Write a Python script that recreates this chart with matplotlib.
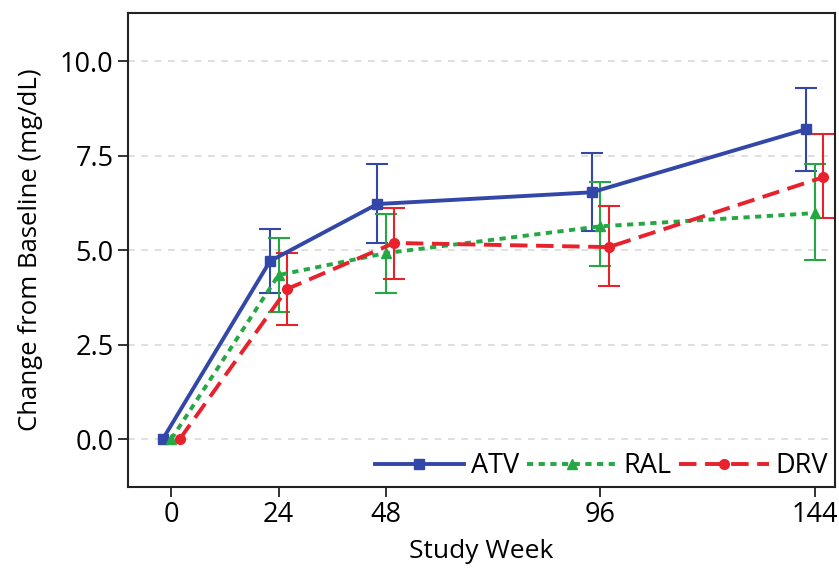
import matplotlib.pyplot as plt
from matplotlib.ticker import FormatStrFormatter

plt.rcParams['font.family'] = ['Open Sans', 'DejaVu Sans']

weeks = [0, 24, 48, 96, 144]

atv_mean = [0.0, 4.71, 6.22, 6.53, 8.20]
atv_low = [0.0, 3.86, 5.19, 5.50, 7.09]
atv_high = [0.0, 5.56, 7.28, 7.57, 9.29]

ral_mean = [0.0, 4.34, 4.92, 5.63, 5.98]
ral_low = [0.0, 3.36, 3.86, 4.58, 4.74]
ral_high = [0.0, 5.32, 5.95, 6.80, 7.28]

drv_mean = [0.0, 3.97, 5.19, 5.08, 6.93]
drv_low = [0.0, 3.02, 4.23, 4.05, 5.85]
drv_high = [0.0, 4.92, 6.11, 6.16, 8.07]

series = [
    ("ATV", atv_mean, atv_low, atv_high, "#3347a8", "s", "-", -1.9),
    ("RAL", ral_mean, ral_low, ral_high, "#25a844", "^", (0, (1.6, 1.4)), 0.0),
    ("DRV", drv_mean, drv_low, drv_high, "#e8222c", "o", (0, (4.5, 2.2)), 1.9),
]

fig, ax = plt.subplots(figsize=(8.39, 5.75), dpi=100)
fig.subplots_adjust(left=0.152, right=0.995, top=0.977, bottom=0.153)

for y in [0, 2.5, 5, 7.5, 10]:
    ax.axhline(y, color="#d9d9d9", lw=1.2, ls=(0, (4, 4)), zorder=0)

for name, m, lo, hi, col, mk, ls, off in series:
    xs = [w + off for w in weeks]
    err = [[a - b for a, b in zip(m, lo)], [b - a for a, b in zip(m, hi)]]
    ax.errorbar(xs[1:], m[1:], yerr=[err[0][1:], err[1][1:]], fmt="none",
                ecolor=col, elinewidth=1.5, capsize=8, capthick=1.5, zorder=2)
    ax.plot(xs, m, color=col, lw=2.8, ls=ls, marker=mk, markersize=7,
            label=name, zorder=3)

ax.set_xlim(-9.8, 148.5)
ax.set_ylim(-1.27, 11.27)
ax.set_xticks(weeks)
ax.set_yticks([0, 2.5, 5, 7.5, 10])
ax.yaxis.set_major_formatter(FormatStrFormatter("%.1f"))
ax.tick_params(labelsize=19.5, length=7, width=1.3, color="#222222", pad=3)
for s in ax.spines.values():
    s.set_linewidth(1.5)
    s.set_color("#222222")

ax.set_xlabel("Study Week", fontsize=19, labelpad=7)
ax.set_ylabel("Change from Baseline (mg/dL)", fontsize=18.5, labelpad=12)

ax.legend(loc="lower right", ncol=3, frameon=False, fontsize=19.5,
          handlelength=3.3, handletextpad=0.25, columnspacing=0.3,
          borderaxespad=0.05, borderpad=0.2)

fig.savefig("out.png")
